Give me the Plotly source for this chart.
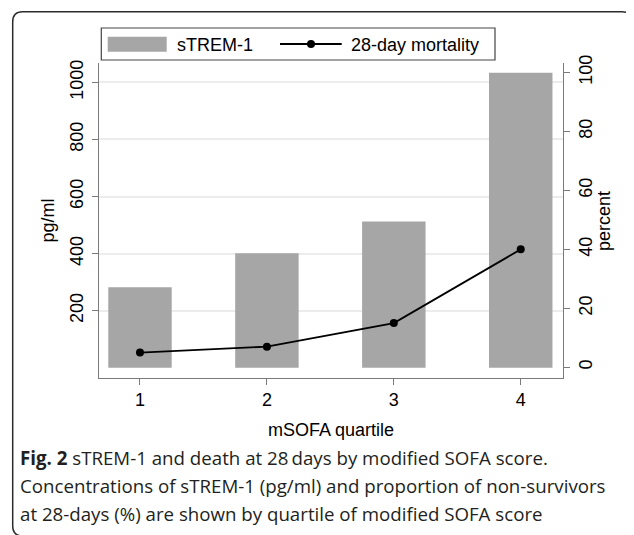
import plotly.graph_objects as go

# ---- data ----
quartiles = [1, 2, 3, 4]
strem1_pgml = [282, 401, 513, 1034]
mortality_pct = [5, 7, 15, 40]
left_ticks = [200, 400, 600, 800, 1000]
right_ticks = [0, 20, 40, 60, 80, 100]
x_ticks = [1, 2, 3, 4]
x_labels = ["1", "2", "3", "4"]
series_names = ["sTREM-1", "28-day mortality"]
x_title = "mSOFA quartile"
y_title = "pg/ml"
y2_title = "percent"
caption_lines = [
    "<b>Fig. 2</b> sTREM-1 and death at 28\u2009days by modified SOFA score.",
    "Concentrations of sTREM-1 (pg/ml) and proportion of non-survivors",
    "at 28-days (%) are shown by quartile of modified SOFA score",
]

# ---- layout geometry (window pixels; page body has an 8px margin) ----
OFF = 8
W, H = 634 - OFF, 535 - OFF
PLOT_L, PLOT_R, PLOT_T, PLOT_B = 99, 563, 63, 378   # window coords of plot area
L = PLOT_L - OFF
R = W - (PLOT_R - OFF)
T = PLOT_T - OFF
B = H - (PLOT_B - OFF)
PW = W - L - R
PH = H - T - B


def px_x(px):
    return (px - OFF - L) / PW


def px_y(py):
    return (H - B - (py - OFF)) / PH


FONT = "Liberation Sans, Arial, sans-serif"
CAP_FONT = "Open Sans, Noto Sans, DejaVu Sans, sans-serif"
FS = 18
AXIS_COLOR = "#7a7a7a"
BAR_COLOR = "#a6a6a6"

fig = go.Figure()
fig.add_trace(go.Bar(
    x=quartiles, y=strem1_pgml, name=series_names[0], width=0.5,
    marker=dict(color=BAR_COLOR, line=dict(width=0)), yaxis="y",
))
fig.add_trace(go.Scatter(
    x=quartiles, y=mortality_pct, name=series_names[1], mode="lines+markers",
    line=dict(color="black", width=1.8), marker=dict(color="black", size=8),
    yaxis="y2",
))

axis_common = dict(
    showline=True, linecolor=AXIS_COLOR, linewidth=1.3, ticks="outside",
    ticklen=6, tickcolor=AXIS_COLOR, tickwidth=1.3, zeroline=False,
    tickfont=dict(family=FONT, size=FS, color="black"),
)

fig.update_layout(
    width=W, height=H,
    margin=dict(l=L, r=R, t=T, b=B, autoexpand=False),
    paper_bgcolor="white", plot_bgcolor="white", showlegend=False,
    font=dict(family=FONT, size=FS, color="black"),
    xaxis=dict(
        range=[0.677, 4.333], tickvals=x_ticks, ticktext=x_labels,
        showgrid=False, ticklabelstandoff=-1,
        title=dict(text=x_title, standoff=14, font=dict(family=FONT, size=FS)),
        **axis_common,
    ),
    yaxis=dict(
        range=[-35.7, 1068], tickvals=left_ticks, tickangle=-90,
        showgrid=True, gridcolor="#ececec", gridwidth=1.5,
        ticklabelstandoff=2,
        title=dict(text=y_title, standoff=7, font=dict(family=FONT, size=FS)),
        **axis_common,
    ),
    yaxis2=dict(
        overlaying="y", side="right", range=[-3.63, 103.2],
        tickvals=right_ticks, tickangle=-90, showgrid=False,
        ticklabelstandoff=0,
        **axis_common,
    ),
)

shapes = []
annotations = []

# right axis title (placed by hand: closer than a title standoff allows)
annotations.append(dict(xref="paper", yref="paper", x=px_x(604), y=px_y(221),
                        xanchor="center", yanchor="middle", showarrow=False,
                        textangle=-90, text=y2_title,
                        font=dict(family=FONT, size=FS)))

# outer rounded border
x0, y0, x1, y1, r = 12.7, 11.7, 632, 536, 10
path = (
    f"M {px_x(x0 + r)},{px_y(y0)} L {px_x(x1 - r)},{px_y(y0)} "
    f"Q {px_x(x1)},{px_y(y0)} {px_x(x1)},{px_y(y0 + r)} "
    f"L {px_x(x1)},{px_y(y1 - r)} Q {px_x(x1)},{px_y(y1)} {px_x(x1 - r)},{px_y(y1)} "
    f"L {px_x(x0 + r)},{px_y(y1)} Q {px_x(x0)},{px_y(y1)} {px_x(x0)},{px_y(y1 - r)} "
    f"L {px_x(x0)},{px_y(y0 + r)} Q {px_x(x0)},{px_y(y0)} {px_x(x0 + r)},{px_y(y0)} Z"
)
shapes.append(dict(type="path", xref="paper", yref="paper", path=path,
                   line=dict(color="#2b2b2b", width=1.5), layer="below"))

# legend box
shapes.append(dict(type="rect", xref="paper", yref="paper",
                   x0=px_x(101.3), x1=px_x(495), y0=px_y(28), y1=px_y(60),
                   line=dict(color="#444444", width=1.2), fillcolor="white"))
shapes.append(dict(type="rect", xref="paper", yref="paper",
                   x0=px_x(107.7), x1=px_x(166.7), y0=px_y(36.7), y1=px_y(51.7),
                   line=dict(width=0), fillcolor=BAR_COLOR))
shapes.append(dict(type="line", xref="paper", yref="paper",
                   x0=px_x(280), x1=px_x(341.7), y0=px_y(44), y1=px_y(44),
                   line=dict(color="black", width=1.8)))
shapes.append(dict(type="circle", xref="paper", yref="paper",
                   x0=px_x(307), x1=px_x(315), y0=px_y(40), y1=px_y(48),
                   line=dict(color="black", width=0), fillcolor="black"))
annotations.append(dict(xref="paper", yref="paper", x=px_x(175), y=px_y(44.5),
                        xanchor="left", yanchor="middle", showarrow=False,
                        text=series_names[0], font=dict(family=FONT, size=FS)))
annotations.append(dict(xref="paper", yref="paper", x=px_x(348.5), y=px_y(44.5),
                        xanchor="left", yanchor="middle", showarrow=False,
                        text=series_names[1], font=dict(family=FONT, size=FS)))

# caption
cap_y = [457, 485, 513]
for line, cy in zip(caption_lines, cap_y):
    annotations.append(dict(xref="paper", yref="paper", x=px_x(18), y=px_y(cy),
                            xanchor="left", yanchor="middle", showarrow=False,
                            text=line, align="left",
                            font=dict(family=CAP_FONT, size=18.7, color="#231f20")))

fig.update_layout(shapes=shapes, annotations=annotations)
fig.write_html("out.html")
